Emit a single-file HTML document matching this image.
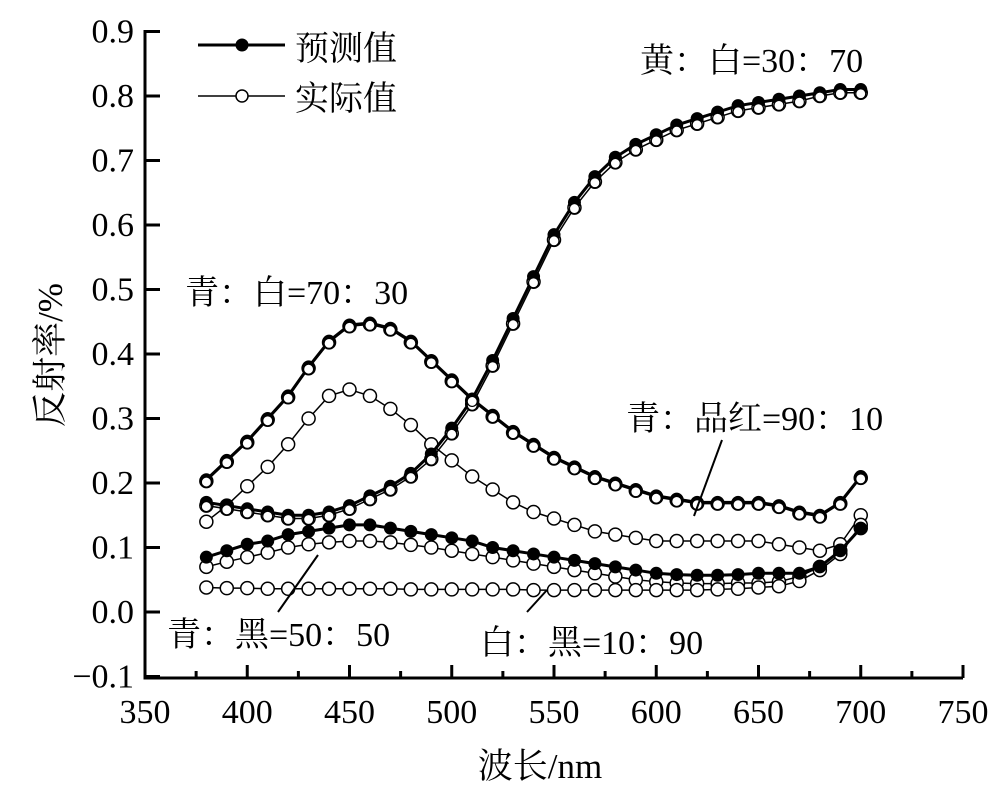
<!DOCTYPE html>
<html><head><meta charset="utf-8"><style>body{margin:0;background:#fff}svg{display:block}</style></head>
<body>
<svg id="s" width="1000" height="787" xmlns="http://www.w3.org/2000/svg" font-family="'Liberation Serif','Noto Serif CJK SC',serif">
</svg>
<script>
const s=document.getElementById('s');
const X=n=>145+(n-350)*2.045, Y=v=>612-v*645;
let h='';
h+=`<path d="M145,30 V678 H963" fill="none" stroke="#000" stroke-width="3"/>`;
for(let n=350;n<=750;n+=25){const maj=n%50==0;h+=`<line x1="${X(n)}" y1="678" x2="${X(n)}" y2="${maj?665:671}" stroke="#000" stroke-width="3"/>`;
 if(maj)h+=`<text x="${X(n)}" y="723" font-size="34" text-anchor="middle">${n}</text>`;}
for(let i=-1;i<=9;i++){const y=Y(i/10);h+=`<line x1="145" y1="${y}" x2="160" y2="${y}" stroke="#000" stroke-width="3"/>`;
 h+=`<text x="134" y="${y+11}" font-size="34" text-anchor="end">${i<0?'−0.1':(i/10).toFixed(1)}</text>`;}
h+=`<text x="540" y="778" font-size="35" text-anchor="middle">波长/nm</text>`;
h+=`<text transform="translate(62,355) rotate(-90)" font-size="35" text-anchor="middle">反射率/%</text>`;
const nm=[];for(let n=380;n<=700;n+=10)nm.push(n);
const ser=[
[0.17,0.165,0.16,0.155,0.15,0.15,0.155,0.165,0.18,0.195,0.215,0.245,0.285,0.33,0.39,0.455,0.52,0.585,0.635,0.675,0.705,0.725,0.74,0.755,0.765,0.775,0.785,0.79,0.795,0.8,0.805,0.81,0.81],
[0.205,0.235,0.265,0.3,0.335,0.38,0.42,0.445,0.448,0.44,0.42,0.39,0.36,0.33,0.305,0.28,0.26,0.24,0.225,0.21,0.2,0.19,0.18,0.175,0.17,0.17,0.17,0.17,0.165,0.155,0.15,0.17,0.21],
[0.085,0.095,0.105,0.11,0.12,0.125,0.13,0.135,0.135,0.13,0.125,0.12,0.115,0.11,0.1,0.095,0.09,0.085,0.08,0.075,0.07,0.065,0.06,0.058,0.057,0.057,0.058,0.06,0.06,0.06,0.07,0.095,0.13],
];
const act=[
ser[0].map((v,i)=>v-(i>10&&i<30?0.008:0.005)),
ser[1].map(v=>v-0.002),
[0.14,0.165,0.195,0.225,0.26,0.3,0.335,0.345,0.335,0.315,0.29,0.26,0.235,0.21,0.19,0.17,0.155,0.145,0.135,0.125,0.12,0.115,0.11,0.11,0.11,0.11,0.11,0.11,0.105,0.1,0.095,0.105,0.15],
[0.07,0.078,0.085,0.092,0.1,0.105,0.108,0.11,0.11,0.108,0.104,0.1,0.095,0.09,0.085,0.08,0.075,0.07,0.065,0.06,0.055,0.05,0.047,0.045,0.044,0.044,0.045,0.045,0.047,0.055,0.07,0.095,0.13],
[0.038,0.037,0.037,0.036,0.036,0.036,0.036,0.036,0.036,0.036,0.035,0.035,0.035,0.035,0.035,0.035,0.034,0.034,0.034,0.034,0.034,0.034,0.034,0.034,0.034,0.035,0.036,0.038,0.04,0.048,0.065,0.09,0.135]
];
function line(a,w){return `<polyline points="${a.map((v,i)=>X(nm[i])+','+Y(v)).join(' ')}" fill="none" stroke="#000" stroke-width="${w}"/>`;}
for(const a of act){h+=line(a,1.5);a.forEach((v,i)=>h+=`<circle cx="${X(nm[i])}" cy="${Y(v)}" r="6.5" fill="#fff" stroke="#000" stroke-width="1.5"/>`);}
for(const a of ser){h+=line(a,3);a.forEach((v,i)=>h+=`<circle cx="${X(nm[i])}" cy="${Y(v)}" r="6.5" fill="#000"/>`);}
for(const a of [act[0],act[1]])a.forEach((v,i)=>h+=`<circle cx="${X(nm[i])}" cy="${Y(v)+1}" r="5" fill="#fff" stroke="#000" stroke-width="1.2"/>`);
h+=`<line x1="198" y1="45" x2="285" y2="45" stroke="#000" stroke-width="3"/><circle cx="242" cy="45" r="6.5"/>`;
h+=`<line x1="198" y1="96" x2="285" y2="96" stroke="#000" stroke-width="1.5"/><circle cx="242" cy="96" r="6" fill="#fff" stroke="#000" stroke-width="1.5"/>`;
h+=`<text x="295" y="60" font-size="34">预测值</text><text x="295" y="110" font-size="34">实际值</text>`;
const t=(x,y,s)=>h+=`<text x="${x}" y="${y}" font-size="34">${s}</text>`;
t(640,72,'黄：白=30：70');t(185,304,'青：白=70：30');t(626,430,'青：品红=90：10');t(167,646,'青：黑=50：50');t(480,654,'白：黑=10：90');
h+=`<line x1="722" y1="440" x2="694" y2="516" stroke="#000" stroke-width="2"/>`;
h+=`<line x1="278" y1="612" x2="318" y2="555" stroke="#000" stroke-width="2"/>`;
h+=`<line x1="527" y1="612" x2="547" y2="590" stroke="#000" stroke-width="2"/>`;
s.innerHTML=h;
</script>
</body></html>
